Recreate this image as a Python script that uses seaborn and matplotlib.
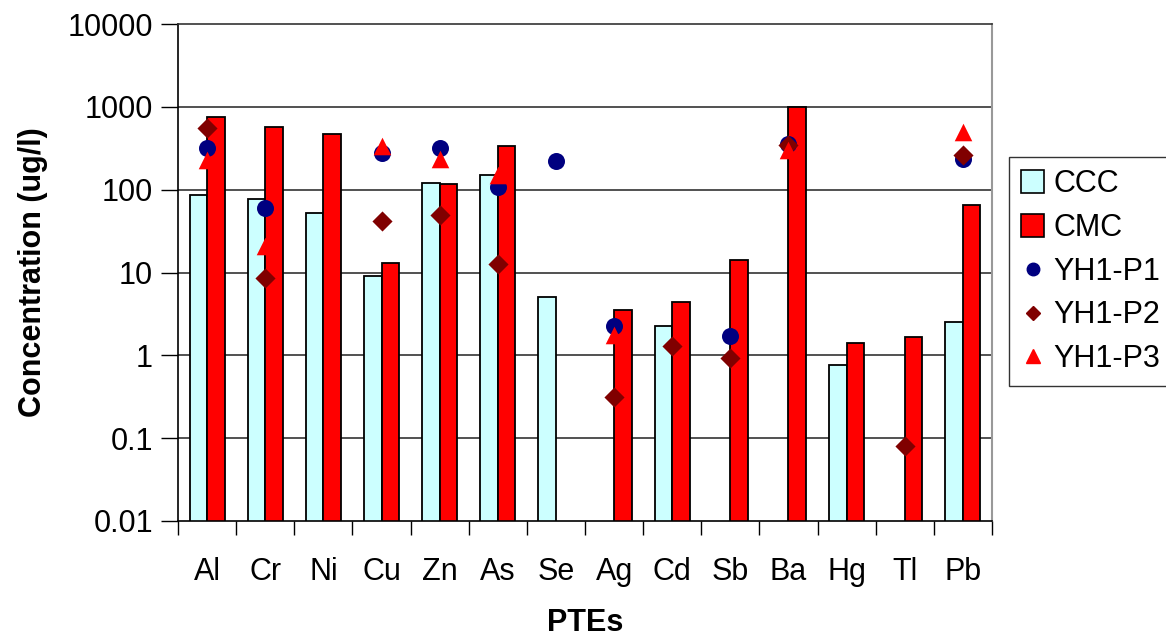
import numpy as np
import pandas as pd
import matplotlib
matplotlib.use("Agg")
import matplotlib.pyplot as plt
import seaborn as sns
from matplotlib.patches import Patch
from matplotlib.lines import Line2D

elements = ["Al", "Cr", "Ni", "Cu", "Zn", "As", "Se", "Ag", "Cd", "Sb", "Ba", "Hg", "Tl", "Pb"]
ccc = [87, 77, 53, 9.1, 119, 150, 5.0, np.nan, 2.25, np.nan, np.nan, 0.76, np.nan, 2.5]
cmc = [750, 575, 466, 13.2, 118, 337, np.nan, 3.5, 4.4, 14.3, 1000, 1.4, 1.67, 66]
p1 = [316, 60, np.nan, 275, 316, 107, 223, 2.28, np.nan, 1.69, 355, np.nan, np.nan, 235]
p2 = [560, 8.5, np.nan, 42, 49, 12.6, np.nan, 0.31, 1.3, 0.92, 345, np.nan, 0.081, 260]
p3 = [230, 21, np.nan, 340, 234, 150, np.nan, 1.77, np.nan, np.nan, 300, np.nan, np.nan, 500]

yticks = [0.01, 0.1, 1, 10, 100, 1000, 10000]
ytick_labels = ["0.01", "0.1", "1", "10", "100", "1000", "10000"]

sns.set_style("white")
plt.rcParams["font.family"] = ["Liberation Sans", "DejaVu Sans"]
plt.rcParams["text.color"] = "black"
plt.rcParams["axes.labelcolor"] = "black"
plt.rcParams["xtick.color"] = "black"
plt.rcParams["ytick.color"] = "black"

bars = pd.DataFrame({
    "Element": elements * 2,
    "Value": ccc + cmc,
    "Series": ["CCC"] * len(elements) + ["CMC"] * len(elements),
})

fig = plt.figure(figsize=(11.66, 6.39), dpi=100)
ax = fig.add_axes([178 / 1166, 1 - 521 / 639, (992 - 178) / 1166, (521 - 24) / 639])
ax.set_yscale("log")

sns.barplot(data=bars, x="Element", y="Value", hue="Series", order=elements,
            hue_order=["CCC", "CMC"], palette={"CCC": "#CCFFFF", "CMC": "#FF0000"},
            saturation=1, width=0.6, edgecolor="black", linewidth=1.3, legend=False,
            ax=ax, zorder=2)

pts_style = [
    (p1, "o", "#000080", 150),
    (p2, "D", "#800000", 105),
    (p3, "^", "#FF0000", 160),
]
for vals, mk, col, sz in pts_style:
    df = pd.DataFrame({"Element": elements, "Value": vals})
    sns.stripplot(data=df, x="Element", y="Value", order=elements, jitter=False,
                  marker=mk, color=col, size=np.sqrt(sz), linewidth=0, ax=ax, zorder=3)

ax.set_yscale("log")
ax.set_ylim(0.01, 10000)
ax.set_xlim(-0.5, len(elements) - 0.5)
ax.set_yticks(yticks)
ax.set_yticklabels(ytick_labels)
ax.yaxis.set_minor_locator(matplotlib.ticker.NullLocator())
ax.tick_params(axis="y", which="major", direction="out", length=12, width=1,
               color="black", labelsize=22, labelcolor="black", left=True, pad=6)

ax.set_xticks(np.arange(-0.5, len(elements), 1.0))
ax.set_xticklabels([""] * (len(elements) + 1))
ax.set_xticks(np.arange(len(elements)), minor=True)
ax.set_xticklabels(elements, minor=True)
ax.tick_params(axis="x", which="major", direction="out", length=10, width=1,
               color="black", bottom=True)
ax.tick_params(axis="x", which="minor", length=0, labelsize=22, labelcolor="black", pad=26)

for y in yticks[1:-1]:
    ax.axhline(y, color="#333333", linewidth=1.2, zorder=1)

for side in ["left", "bottom"]:
    ax.spines[side].set_color("black")
    ax.spines[side].set_linewidth(1.2)
ax.spines["top"].set_color("#333333")
ax.spines["top"].set_linewidth(1.2)
ax.spines["right"].set_color("#999999")
ax.spines["right"].set_linewidth(1.5)

ax.set_xlabel("PTEs", fontsize=22, fontweight="bold", labelpad=15, color="black")
ax.set_ylabel("Concentration (ug/l)", fontsize=22, fontweight="bold", labelpad=14, color="black")

handles = [
    Patch(facecolor="#CCFFFF", edgecolor="black", linewidth=1.2, label="CCC"),
    Patch(facecolor="#FF0000", edgecolor="black", linewidth=1.2, label="CMC"),
    Line2D([], [], linestyle="none", marker="o", color="#000080", markersize=9, label="YH1-P1"),
    Line2D([], [], linestyle="none", marker="D", color="#800000", markersize=7, label="YH1-P2"),
    Line2D([], [], linestyle="none", marker="^", color="#FF0000", markersize=10, label="YH1-P3"),
]
leg = fig.legend(handles=handles, loc="upper left", bbox_to_anchor=(1009 / 1166, 1 - 157 / 639),
                 fontsize=22, frameon=True, fancybox=False, handlelength=0.75, handleheight=0.75,
                 handletextpad=0.3, labelspacing=0.45, borderpad=0.4, borderaxespad=0)
leg.get_frame().set_edgecolor("black")
leg.get_frame().set_linewidth(1.0)
for t in leg.get_texts():
    t.set_color("black")

fig.savefig("out.png", dpi=100)
